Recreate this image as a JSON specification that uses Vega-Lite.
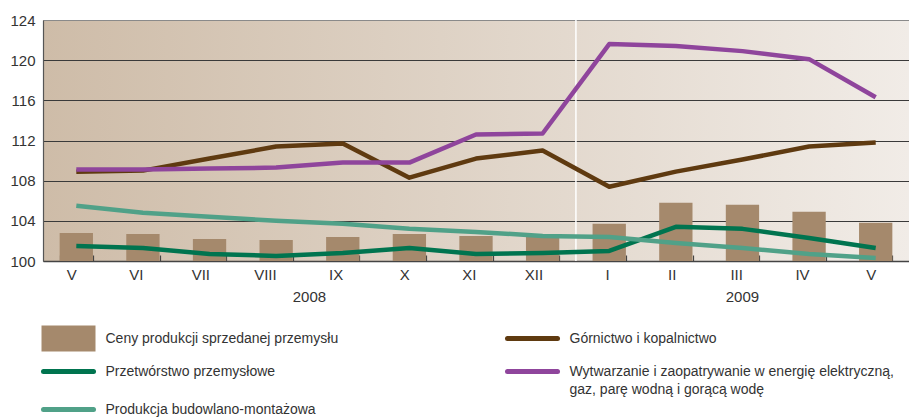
{
  "$schema": "https://vega.github.io/schema/vega-lite/v6.json",
  "width": 866,
  "height": 241,
  "autosize": {"type": "none"},
  "padding": {"left": 43, "top": 20, "right": 0, "bottom": 156},
  "background": "white",
  "config": {
    "font": "Liberation Sans",
    "view": {
      "fill": {"gradient": "linear", "x1": 0, "y1": 0, "x2": 1, "y2": 0,
        "stops": [{"offset": 0, "color": "#cebca8"}, {"offset": 1, "color": "#f1ece7"}]},
      "stroke": null
    },
    "axis": {"labelFont": "Liberation Sans", "labelColor": "#333333", "labelFontSize": 15, "title": null},
    "legend": {
      "orient": "none", "legendX": 13, "legendY": 306, "padding": 0, "columns": 2,
      "columnPadding": 158, "rowPadding": -8, "symbolSize": 400, "symbolStrokeWidth": 5,
      "labelFont": "Liberation Sans", "labelFontSize": 14, "labelColor": "#333333",
      "labelLimit": 700, "labelOffset": 24.5, "title": null
    }
  },
  "data": {"values": [
    {"m": "2008-V", "c": "Ceny produkcji sprzedanej przemysłu", "v": 102.8},
    {"m": "2008-VI", "c": "Ceny produkcji sprzedanej przemysłu", "v": 102.7},
    {"m": "2008-VII", "c": "Ceny produkcji sprzedanej przemysłu", "v": 102.2},
    {"m": "2008-VIII", "c": "Ceny produkcji sprzedanej przemysłu", "v": 102.1},
    {"m": "2008-IX", "c": "Ceny produkcji sprzedanej przemysłu", "v": 102.4},
    {"m": "2008-X", "c": "Ceny produkcji sprzedanej przemysłu", "v": 102.7},
    {"m": "2008-XI", "c": "Ceny produkcji sprzedanej przemysłu", "v": 102.5},
    {"m": "2008-XII", "c": "Ceny produkcji sprzedanej przemysłu", "v": 102.5},
    {"m": "2009-I", "c": "Ceny produkcji sprzedanej przemysłu", "v": 103.7},
    {"m": "2009-II", "c": "Ceny produkcji sprzedanej przemysłu", "v": 105.8},
    {"m": "2009-III", "c": "Ceny produkcji sprzedanej przemysłu", "v": 105.6},
    {"m": "2009-IV", "c": "Ceny produkcji sprzedanej przemysłu", "v": 104.9},
    {"m": "2009-V", "c": "Ceny produkcji sprzedanej przemysłu", "v": 103.8},
    {"m": "2008-V", "c": "Górnictwo i kopalnictwo", "v": 108.9},
    {"m": "2008-VI", "c": "Górnictwo i kopalnictwo", "v": 109.0},
    {"m": "2008-VII", "c": "Górnictwo i kopalnictwo", "v": 110.2},
    {"m": "2008-VIII", "c": "Górnictwo i kopalnictwo", "v": 111.4},
    {"m": "2008-IX", "c": "Górnictwo i kopalnictwo", "v": 111.7},
    {"m": "2008-X", "c": "Górnictwo i kopalnictwo", "v": 108.3},
    {"m": "2008-XI", "c": "Górnictwo i kopalnictwo", "v": 110.2},
    {"m": "2008-XII", "c": "Górnictwo i kopalnictwo", "v": 111.0},
    {"m": "2009-I", "c": "Górnictwo i kopalnictwo", "v": 107.4},
    {"m": "2009-II", "c": "Górnictwo i kopalnictwo", "v": 108.9},
    {"m": "2009-III", "c": "Górnictwo i kopalnictwo", "v": 110.1},
    {"m": "2009-IV", "c": "Górnictwo i kopalnictwo", "v": 111.4},
    {"m": "2009-V", "c": "Górnictwo i kopalnictwo", "v": 111.8},
    {"m": "2008-V", "c": "Przetwórstwo przemysłowe", "v": 101.5},
    {"m": "2008-VI", "c": "Przetwórstwo przemysłowe", "v": 101.3},
    {"m": "2008-VII", "c": "Przetwórstwo przemysłowe", "v": 100.7},
    {"m": "2008-VIII", "c": "Przetwórstwo przemysłowe", "v": 100.5},
    {"m": "2008-IX", "c": "Przetwórstwo przemysłowe", "v": 100.8},
    {"m": "2008-X", "c": "Przetwórstwo przemysłowe", "v": 101.3},
    {"m": "2008-XI", "c": "Przetwórstwo przemysłowe", "v": 100.7},
    {"m": "2008-XII", "c": "Przetwórstwo przemysłowe", "v": 100.8},
    {"m": "2009-I", "c": "Przetwórstwo przemysłowe", "v": 101.0},
    {"m": "2009-II", "c": "Przetwórstwo przemysłowe", "v": 103.4},
    {"m": "2009-III", "c": "Przetwórstwo przemysłowe", "v": 103.2},
    {"m": "2009-IV", "c": "Przetwórstwo przemysłowe", "v": 102.3},
    {"m": "2009-V", "c": "Przetwórstwo przemysłowe", "v": 101.3},
    {"m": "2008-V", "c": "Wytwarzanie i zaopatrywanie w energię elektryczną, gaz, parę wodną i gorącą wodę", "v": 109.1},
    {"m": "2008-VI", "c": "Wytwarzanie i zaopatrywanie w energię elektryczną, gaz, parę wodną i gorącą wodę", "v": 109.1},
    {"m": "2008-VII", "c": "Wytwarzanie i zaopatrywanie w energię elektryczną, gaz, parę wodną i gorącą wodę", "v": 109.2},
    {"m": "2008-VIII", "c": "Wytwarzanie i zaopatrywanie w energię elektryczną, gaz, parę wodną i gorącą wodę", "v": 109.3},
    {"m": "2008-IX", "c": "Wytwarzanie i zaopatrywanie w energię elektryczną, gaz, parę wodną i gorącą wodę", "v": 109.8},
    {"m": "2008-X", "c": "Wytwarzanie i zaopatrywanie w energię elektryczną, gaz, parę wodną i gorącą wodę", "v": 109.8},
    {"m": "2008-XI", "c": "Wytwarzanie i zaopatrywanie w energię elektryczną, gaz, parę wodną i gorącą wodę", "v": 112.6},
    {"m": "2008-XII", "c": "Wytwarzanie i zaopatrywanie w energię elektryczną, gaz, parę wodną i gorącą wodę", "v": 112.7},
    {"m": "2009-I", "c": "Wytwarzanie i zaopatrywanie w energię elektryczną, gaz, parę wodną i gorącą wodę", "v": 121.6},
    {"m": "2009-II", "c": "Wytwarzanie i zaopatrywanie w energię elektryczną, gaz, parę wodną i gorącą wodę", "v": 121.4},
    {"m": "2009-III", "c": "Wytwarzanie i zaopatrywanie w energię elektryczną, gaz, parę wodną i gorącą wodę", "v": 120.9},
    {"m": "2009-IV", "c": "Wytwarzanie i zaopatrywanie w energię elektryczną, gaz, parę wodną i gorącą wodę", "v": 120.1},
    {"m": "2009-V", "c": "Wytwarzanie i zaopatrywanie w energię elektryczną, gaz, parę wodną i gorącą wodę", "v": 116.3},
    {"m": "2008-V", "c": "Produkcja budowlano-montażowa", "v": 105.5},
    {"m": "2008-VI", "c": "Produkcja budowlano-montażowa", "v": 104.8},
    {"m": "2008-VII", "c": "Produkcja budowlano-montażowa", "v": 104.4},
    {"m": "2008-VIII", "c": "Produkcja budowlano-montażowa", "v": 104.0},
    {"m": "2008-IX", "c": "Produkcja budowlano-montażowa", "v": 103.7},
    {"m": "2008-X", "c": "Produkcja budowlano-montażowa", "v": 103.2},
    {"m": "2008-XI", "c": "Produkcja budowlano-montażowa", "v": 102.9},
    {"m": "2008-XII", "c": "Produkcja budowlano-montażowa", "v": 102.5},
    {"m": "2009-I", "c": "Produkcja budowlano-montażowa", "v": 102.4},
    {"m": "2009-II", "c": "Produkcja budowlano-montażowa", "v": 101.8},
    {"m": "2009-III", "c": "Produkcja budowlano-montażowa", "v": 101.3},
    {"m": "2009-IV", "c": "Produkcja budowlano-montażowa", "v": 100.7},
    {"m": "2009-V", "c": "Produkcja budowlano-montażowa", "v": 100.3}
  ]},
  "layer": [
    {
      "data": {"values": [{"m": "2008-XII"}]},
      "mark": {"type": "rule", "color": "#ffffff", "strokeWidth": 1.5},
      "encoding": {
        "x": {"field": "m", "type": "nominal", "bandPosition": 1.5,
          "scale": {"domain": ["2008-V","2008-VI","2008-VII","2008-VIII","2008-IX","2008-X","2008-XI","2008-XII","2009-I","2009-II","2009-III","2009-IV","2009-V"], "paddingInner": 0.5, "paddingOuter": 0.25}}
      }
    },
    {
      "transform": [{"filter": "datum.c == 'Ceny produkcji sprzedanej przemysłu'"}],
      "mark": {"type": "bar"},
      "encoding": {
        "x": {"field": "m", "type": "nominal",
          "scale": {"domain": ["2008-V","2008-VI","2008-VII","2008-VIII","2008-IX","2008-X","2008-XI","2008-XII","2009-I","2009-II","2009-III","2009-IV","2009-V"], "paddingInner": 0.5, "paddingOuter": 0.25},
          "axis": {"labelExpr": "split(datum.label, '-')[1]", "labelAngle": 0, "tickBand": "extent", "tickSize": -6,
            "tickColor": "#444444", "tickWidth": 1.2, "domainColor": "#444444", "domainWidth": 1.5, "labelPadding": 19, "labelBaseline": "middle"}},
        "y": {"field": "v", "type": "quantitative",
          "scale": {"domain": [100, 124], "zero": false, "nice": false},
          "axis": {"values": [100, 104, 108, 112, 116, 120, 124], "grid": true,
            "gridColor": {"condition": {"test": "datum.value == 124", "value": "#8a8a8a"}, "value": "#3a3a3a"},
            "gridWidth": 1, "ticks": false, "domainColor": "#555555", "domainWidth": 1.2, "labelPadding": 8}},
        "y2": {"datum": 100},
        "color": {"field": "c", "type": "nominal",
          "scale": {"domain": ["Ceny produkcji sprzedanej przemysłu", "Przetwórstwo przemysłowe", "Produkcja budowlano-montażowa", "Górnictwo i kopalnictwo", "Wytwarzanie i zaopatrywanie w energię elektryczną, gaz, parę wodną i gorącą wodę"],
            "range": ["#a5896c", "#00744f", "#50a188", "#5f3a10", "#8f459c"]}}
      }
    },
    {
      "transform": [{"filter": "datum.c != 'Ceny produkcji sprzedanej przemysłu'"}],
      "mark": {"type": "line", "strokeWidth": 4.5, "strokeJoin": "round"},
      "encoding": {
        "x": {"field": "m", "type": "nominal",
          "scale": {"domain": ["2008-V","2008-VI","2008-VII","2008-VIII","2008-IX","2008-X","2008-XI","2008-XII","2009-I","2009-II","2009-III","2009-IV","2009-V"], "paddingInner": 0.5, "paddingOuter": 0.25}},
        "y": {"field": "v", "type": "quantitative"},
        "color": {"field": "c", "type": "nominal",
          "legend": {
            "symbolSize": 400, "symbolStrokeWidth": 5, "rowPadding": -8, "columnPadding": 158, "labelOffset": 24.5,
            "labelExpr": "split(replace(datum.label, 'elektryczną, ', 'elektryczną,|'), '|')",
            "encode": {
              "symbols": {"update": {
                "shape": {"signal": "datum.value == 'Ceny produkcji sprzedanej przemysłu' ? 'M-2.45,-1.05H2.45V1.05H-2.45Z' : 'M-2.5,-1.05M-2.5,1.05M-2.5,0L2.5,0'"},
                "fill": {"signal": "datum.value == 'Ceny produkcji sprzedanej przemysłu' ? scale('color', datum.value) : 'transparent'"},
                "stroke": {"signal": "datum.value == 'Ceny produkcji sprzedanej przemysłu' ? 'transparent' : scale('color', datum.value)"},
                "strokeCap": {"value": "round"},
                "opacity": {"value": 1}
              }},
              "labels": {"update": {
                "lineHeight": {"value": 18}
              }}
            }
          }}
      }
    },
    {
      "data": {"values": [{"m": "2008-VIII", "t": "2008"}]},
      "mark": {"type": "text", "fontSize": 15, "color": "#333333", "dy": 36, "baseline": "middle", "font": "Liberation Sans"},
      "encoding": {
        "x": {"field": "m", "type": "nominal", "bandPosition": 1.5,
          "scale": {"domain": ["2008-V","2008-VI","2008-VII","2008-VIII","2008-IX","2008-X","2008-XI","2008-XII","2009-I","2009-II","2009-III","2009-IV","2009-V"], "paddingInner": 0.5, "paddingOuter": 0.25}},
        "y": {"datum": 100},
        "text": {"field": "t"}
      }
    },
    {
      "data": {"values": [{"m": "2009-III", "t": "2009"}]},
      "mark": {"type": "text", "fontSize": 15, "color": "#333333", "dy": 36, "baseline": "middle", "font": "Liberation Sans"},
      "encoding": {
        "x": {"field": "m", "type": "nominal", "bandPosition": 0.5,
          "scale": {"domain": ["2008-V","2008-VI","2008-VII","2008-VIII","2008-IX","2008-X","2008-XI","2008-XII","2009-I","2009-II","2009-III","2009-IV","2009-V"], "paddingInner": 0.5, "paddingOuter": 0.25}},
        "y": {"datum": 100},
        "text": {"field": "t"}
      }
    }
  ]
}
